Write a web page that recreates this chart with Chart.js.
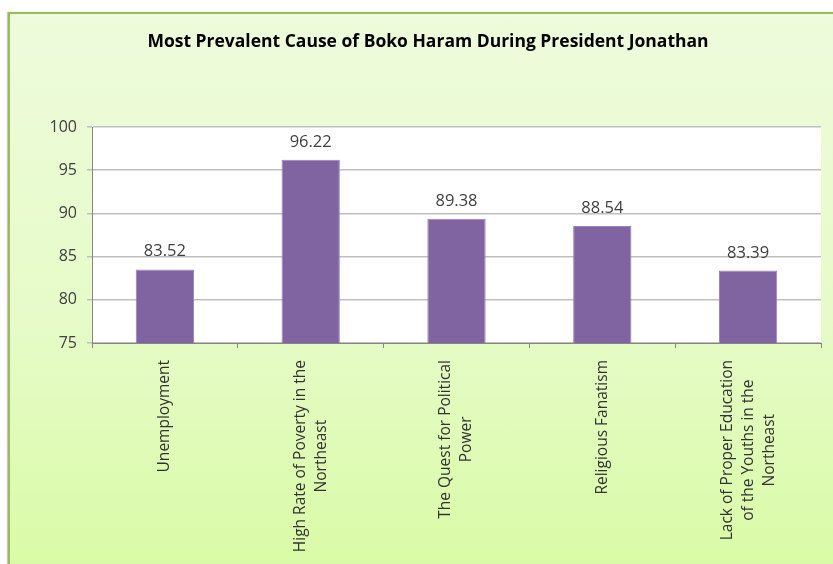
<!DOCTYPE html>
<html lang="en">
<head>
<meta charset="UTF-8">
<title>Boko Haram causes</title>
<script src="https://cdn.jsdelivr.net/npm/chart.js"></script>
<style>
  body { margin: 0; background: #fff; }
  #frame {
    position: absolute; left: 8px; top: 12px; width: 840px; height: 560px;
    border: 2px solid #9bbb59; box-sizing: border-box;
    background: linear-gradient(to bottom, #eefbdc 0%, #e6fbc8 55%, #d9fba6 100%);
    box-shadow: -1px 0 1px #c8c8c8;
  }
  #wrap { position: absolute; left: 0; top: 0; width: 833px; height: 564px; }
</style>
</head>
<body>
<div id="frame"></div>
<div id="wrap"><canvas id="chart" width="833" height="564"></canvas></div>
<script>
// data
const title = 'Most Prevalent Cause of Boko Haram During President Jonathan';
const categories = [
  ['Unemployment'],
  ['High Rate of Poverty in the', 'Northeast'],
  ['The Quest for Political', 'Power'],
  ['Religious Fanatism'],
  ['Lack of Proper Education', 'of the Youths in the', 'Northeast']
];
const values = [83.52, 96.22, 89.38, 88.54, 83.39];
const yTicks = [75, 80, 85, 90, 95, 100];

const FONT = '"Open Sans", sans-serif';

const decor = {
  id: 'decor',
  beforeDraw(chart) {
    const a = chart.chartArea, ctx = chart.ctx;
    ctx.save();
    ctx.fillStyle = '#ffffff';
    ctx.fillRect(a.left, a.top, a.right - a.left, a.bottom - a.top);
    // title, centred on the outer frame rather than the canvas
    ctx.font = 'bold 17.5px ' + FONT;
    ctx.fillStyle = '#000000';
    ctx.textAlign = 'center';
    ctx.textBaseline = 'middle';
    ctx.fillText(title, 428, 42);
    ctx.restore();
  },
  afterDatasetsDraw(chart) {
    const ctx = chart.ctx;
    const meta = chart.getDatasetMeta(0);
    ctx.save();
    ctx.font = '16.5px ' + FONT;
    ctx.fillStyle = '#404040';
    ctx.textAlign = 'center';
    ctx.textBaseline = 'alphabetic';
    meta.data.forEach((bar, i) => {
      ctx.fillText(values[i].toFixed(2), bar.x, bar.y - 13);
    });
    ctx.restore();
  },
  afterDraw(chart) {
    const ctx = chart.ctx;
    const xs = chart.scales.x;
    const top = xs.top + 17;
    ctx.save();
    ctx.font = '15.5px ' + FONT;
    ctx.fillStyle = '#333333';
    ctx.textAlign = 'center';
    ctx.textBaseline = 'middle';
    categories.forEach((lines, i) => {
      const x = xs.getPixelForValue(i);
      const w = Math.max(...lines.map(l => ctx.measureText(l).width));
      ctx.save();
      ctx.translate(x, top);
      ctx.rotate(-Math.PI / 2);
      lines.forEach((l, j) => {
        ctx.fillText(l, -w / 2, (j - (lines.length - 1) / 2) * 21);
      });
      ctx.restore();
    });
    ctx.restore();
  }
};

new Chart(document.getElementById('chart'), {
  type: 'bar',
  data: {
    labels: categories,
    datasets: [{
      data: values,
      backgroundColor: '#8064a2',
      borderColor: '#9a82ba',
      borderWidth: 1,
      barPercentage: 0.4,
      categoryPercentage: 1
    }]
  },
  options: {
    responsive: false,
    animation: false,
    layout: { padding: { left: 0, right: 12, top: 127, bottom: 0 } },
    plugins: {
      legend: { display: false },
      tooltip: { enabled: false },
      title: { display: false }
    },
    scales: {
      x: {
        grid: { offset: true, drawOnChartArea: false, tickLength: 5, color: '#868686' },
        border: { color: '#868686' },
        ticks: { display: false },
        afterFit(s) { s.height = 221; }
      },
      y: {
        min: 75,
        max: 100,
        afterBuildTicks(s) { s.ticks = yTicks.map(v => ({ value: v })); },
        ticks: { font: { family: FONT, size: 16 }, color: '#404040', padding: 10 },
        grid: { color: '#bfbfbf', lineWidth: 1.5, tickLength: 5 },
        border: { color: '#868686' },
        afterFit(s) { s.width = 92; }
      }
    }
  },
  plugins: [decor]
});
</script>
</body>
</html>
